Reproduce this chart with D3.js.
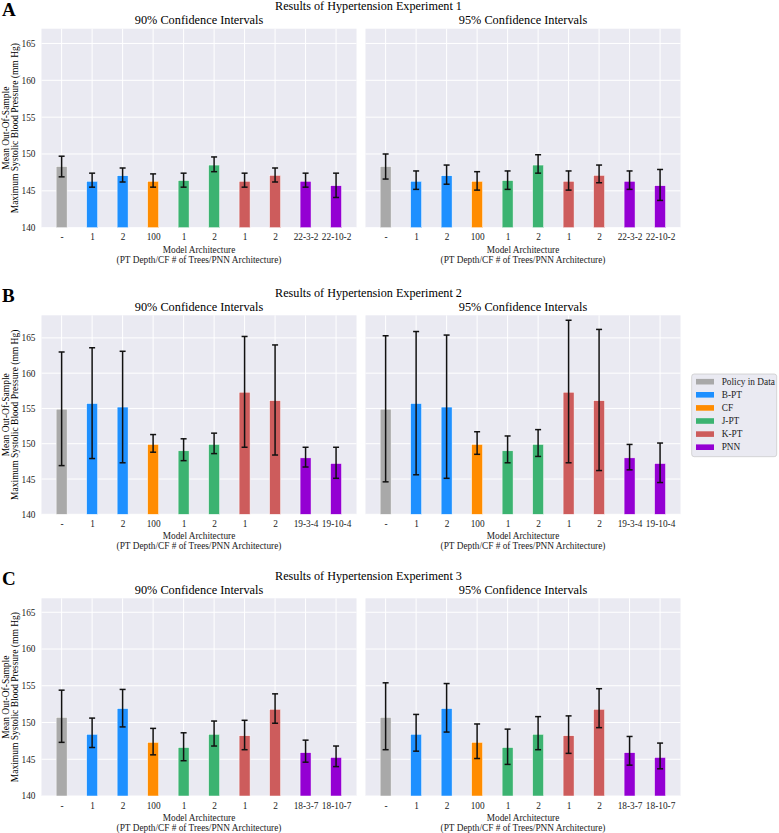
<!DOCTYPE html>
<html>
<head>
<meta charset="utf-8">
<script src="https://cdn.jsdelivr.net/npm/d3@7"></script>
<style>
  body { margin: 0; background: #fff; }
  svg { display: block; font-family: "Times New Roman", "Liberation Serif", serif; }
</style>
</head>
<body>
<svg width="779" height="833"></svg>
<script>
"use strict";

// groups / colours
const groups = ["Policy in Data", "B-PT", "CF", "J-PT", "K-PT", "PNN"];
const groupColors = ["#a9a9a9", "#1e90ff", "#ff8c00", "#3cb371", "#cd5c5c", "#9400d3"];
const barGroup = [0, 1, 1, 2, 3, 3, 4, 4, 5, 5];

// tick labels
const labelsExp1 = ["-", "1", "2", "100", "1", "2", "1", "2", "22-3-2", "22-10-2"];
const labelsExp2 = ["-", "1", "2", "100", "1", "2", "1", "2", "19-3-4", "19-10-4"];
const labelsExp3 = ["-", "1", "2", "100", "1", "2", "1", "2", "18-3-7", "18-10-7"];
const yTicks = [140, 145, 150, 155, 160, 165];

// experiment 1
const mean1  = [148.3, 146.3, 147.05, 146.3, 146.4, 148.5, 146.3, 147.1, 146.3, 145.7];
const lo90_1 = [146.9, 145.5, 146.2, 145.5, 145.5, 147.6, 145.5, 146.2, 145.5, 144.1];
const hi90_1 = [149.7, 147.4, 148.1, 147.3, 147.4, 149.6, 147.4, 148.1, 147.4, 147.4];
const lo95_1 = [146.6, 145.2, 145.9, 145.1, 145.2, 147.4, 145.1, 146.1, 145.2, 143.7];
const hi95_1 = [150.0, 147.7, 148.5, 147.6, 147.7, 149.9, 147.7, 148.5, 147.7, 147.9];

// experiment 2
const mean2  = [154.9, 155.7, 155.2, 149.9, 149.0, 149.9, 157.3, 156.1, 148.0, 147.2];
const lo90_2 = [146.9, 147.9, 147.3, 148.8, 147.6, 148.6, 149.5, 148.4, 146.7, 145.1];
const hi90_2 = [163.0, 163.6, 163.1, 151.3, 150.7, 151.5, 165.2, 164.0, 149.5, 149.5];
const lo95_2 = [144.6, 145.6, 145.1, 148.5, 147.3, 148.2, 147.3, 146.2, 146.3, 144.5];
const hi95_2 = [165.3, 165.9, 165.4, 151.7, 151.1, 152.0, 167.5, 166.2, 149.9, 150.1];

// experiment 3
const mean3  = [150.7, 148.4, 151.9, 147.3, 146.6, 148.4, 148.2, 151.8, 145.9, 145.25];
const lo90_3 = [147.3, 146.6, 149.4, 145.6, 144.8, 146.8, 146.3, 149.9, 144.6, 144.0];
const hi90_3 = [154.4, 150.6, 154.5, 149.2, 148.6, 150.2, 150.3, 153.9, 147.6, 146.8];
const lo95_3 = [146.3, 146.1, 148.7, 145.1, 144.3, 146.3, 145.8, 149.3, 144.2, 143.7];
const hi95_3 = [155.4, 151.1, 155.3, 149.8, 149.1, 150.8, 150.9, 154.6, 148.1, 147.2];

const experiments = [
    {letter: "A", title: "Results of Hypertension Experiment 1", labels: labelsExp1, mean: mean1,
     ci: [[lo90_1, hi90_1], [lo95_1, hi95_1]], top: 28.7, h: 199, ymax: 167},
    {letter: "B", title: "Results of Hypertension Experiment 2", labels: labelsExp2, mean: mean2,
     ci: [[lo90_2, hi90_2], [lo95_2, hi95_2]], top: 315.3, h: 199, ymax: 168.2},
    {letter: "C", title: "Results of Hypertension Experiment 3", labels: labelsExp3, mean: mean3,
     ci: [[lo90_3, hi90_3], [lo95_3, hi95_3]], top: 598.3, h: 197.7, ymax: 166.9},
];
const panelTitles = ["90% Confidence Intervals", "95% Confidence Intervals"];
const panelLeft = [41.5, 365.5];
const panelW = 315;
const bg = "#eaeaf2";

const svg = d3.select("svg");

experiments.forEach(exp => {
    const top = exp.top;
    const bottom = top + exp.h;

    svg.append("text")
        .attr("x", 2).attr("y", top - 13.2)
        .attr("font-size", 19).attr("font-weight", "bold")
        .text(exp.letter);

    svg.append("text")
        .attr("x", 368.5).attr("y", top - 18.3)
        .attr("text-anchor", "middle")
        .attr("font-size", 12.2)
        .text(exp.title);

    // y label
    const yl = svg.append("text")
        .attr("font-size", 9.5)
        .attr("text-anchor", "middle")
        .attr("transform", `translate(0, ${(top + bottom) / 2}) rotate(-90)`);
    yl.append("tspan").attr("x", 0).attr("y", 8.5).text("Mean Out-Of-Sample");
    yl.append("tspan").attr("x", 0).attr("y", 17.5).text("Maximum Systolic Blood Pressure (mm Hg)");

    panelTitles.forEach((pt, p) => {
        const left = panelLeft[p];
        const x = d3.scaleLinear().domain([-0.66, 9.67]).range([left, left + panelW]);
        const y = d3.scaleLinear().domain([140, exp.ymax]).range([bottom, top]);
        const idx = d3.range(exp.mean.length);
        const g = svg.append("g");

        g.append("rect")
            .attr("x", left).attr("y", top)
            .attr("width", panelW).attr("height", exp.h)
            .attr("fill", bg);

        g.selectAll("line.hgrid").data(yTicks).join("line")
            .attr("class", "hgrid")
            .attr("x1", left).attr("x2", left + panelW)
            .attr("y1", d => y(d)).attr("y2", d => y(d))
            .attr("stroke", "#fff").attr("stroke-width", 1);

        g.selectAll("line.vgrid").data(idx).join("line")
            .attr("class", "vgrid")
            .attr("x1", d => x(d)).attr("x2", d => x(d))
            .attr("y1", top).attr("y2", bottom)
            .attr("stroke", "#fff").attr("stroke-width", 1);

        const bw = x(0.36) - x(0);
        g.selectAll("rect.bar").data(idx).join("rect")
            .attr("class", "bar")
            .attr("x", d => x(d) - bw / 2)
            .attr("y", d => y(exp.mean[d]))
            .attr("width", bw)
            .attr("height", d => y(140) - y(exp.mean[d]))
            .attr("fill", d => groupColors[barGroup[d]])
            .attr("stroke", "#fff").attr("stroke-width", 0.5);

        const [lo, hi] = exp.ci[p];
        const eb = g.selectAll("g.err").data(idx).join("g")
            .attr("class", "err")
            .attr("stroke", "#111").attr("stroke-width", 1.5);
        eb.append("line")
            .attr("x1", d => x(d)).attr("x2", d => x(d))
            .attr("y1", d => y(lo[d])).attr("y2", d => y(hi[d]));
        eb.append("line")
            .attr("x1", d => x(d) - 3).attr("x2", d => x(d) + 3)
            .attr("y1", d => y(lo[d])).attr("y2", d => y(lo[d]));
        eb.append("line")
            .attr("x1", d => x(d) - 3).attr("x2", d => x(d) + 3)
            .attr("y1", d => y(hi[d])).attr("y2", d => y(hi[d]));

        // x axis labels
        const xAxis = g.append("g")
            .attr("transform", `translate(0, ${bottom})`)
            .call(d3.axisBottom(x).tickValues(idx).tickSize(0).tickPadding(6)
                .tickFormat(d => exp.labels[d]))
            .attr("font-family", null).attr("font-size", 9.3);
        xAxis.select(".domain").remove();
        xAxis.selectAll("text").attr("fill", "#222");

        if (p === 0) {
            const yAxis = g.append("g")
                .attr("transform", `translate(${left}, 0)`)
                .call(d3.axisLeft(y).tickValues(yTicks).tickSize(0).tickPadding(6))
                .attr("font-family", null).attr("font-size", 9.3);
            yAxis.select(".domain").remove();
            yAxis.selectAll("text").attr("fill", "#222");
        }

        g.append("text")
            .attr("x", left + panelW / 2).attr("y", top - 4.5)
            .attr("text-anchor", "middle")
            .attr("font-size", 12.3)
            .text(pt);

        const xl = g.append("text")
            .attr("font-size", 9.3)
            .attr("text-anchor", "middle")
            .attr("fill", "#222");
        xl.append("tspan").attr("x", left + panelW / 2).attr("y", bottom + 24.8).text("Model Architecture");
        xl.append("tspan").attr("x", left + panelW / 2).attr("y", bottom + 34.8).text("(PT Depth/CF # of Trees/PNN Architecture)");
    });
});

// legend
const legend = svg.append("g").attr("transform", "translate(691.7, 374)");
legend.append("rect")
    .attr("width", 85).attr("height", 82.7)
    .attr("rx", 2.5)
    .attr("fill", bg).attr("stroke", "#cccccc").attr("stroke-width", 0.8);
const items = legend.selectAll("g.item").data(groups).join("g")
    .attr("class", "item")
    .attr("transform", (d, i) => `translate(0, ${7.7 + i * 13.1})`);
items.append("rect")
    .attr("x", 4.3).attr("y", -2.8)
    .attr("width", 18).attr("height", 5.6)
    .attr("fill", (d, i) => groupColors[i]);
items.append("text")
    .attr("x", 30).attr("y", 0)
    .attr("dominant-baseline", "central")
    .attr("font-size", 9.3)
    .attr("fill", "#222")
    .text(d => d);
</script>
</body>
</html>
